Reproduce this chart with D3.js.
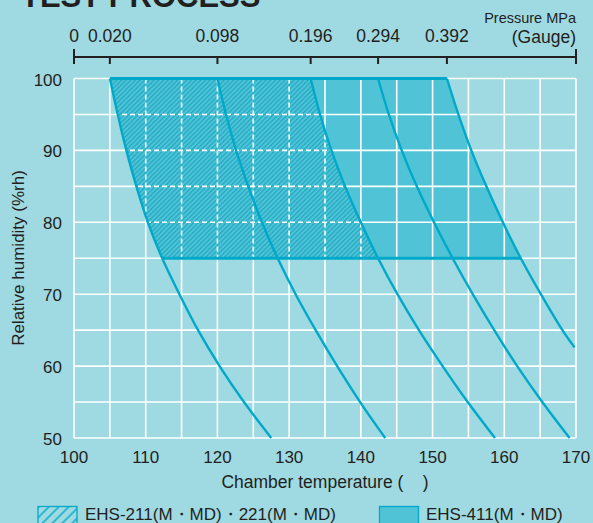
<!DOCTYPE html>
<html>
<head>
<meta charset="utf-8">
<script src="https://cdn.jsdelivr.net/npm/d3@7"></script>
<style>
body { margin: 0; background: #9fd9e2; overflow: hidden; }
text { font-family: "Liberation Sans", Arial, sans-serif; fill: #231f20; white-space: pre; }
</style>
</head>
<body>
<div id="chart"></div>
<script>
const rhLevels = [100, 95, 90, 85, 80, 75, 70, 65, 60, 55, 50];
// chamber temperature of each constant-pressure curve at those levels
const curve1 = [105, 106.1, 107.3, 108.7, 110.3, 112.3, 114.7, 117.3, 120.3, 123.7, 127.5];
const curve2 = [120, 121.2, 122.6, 124.3, 126.2, 128.4, 130.9, 133.7, 136.7, 139.9, 143.4];
const curve3 = [133, 134.3, 135.9, 137.8, 140.0, 142.4, 145.1, 148.1, 151.4, 154.9, 158.7];
const curve4 = [142.4, 143.9, 145.7, 147.8, 150.2, 152.8, 155.6, 158.6, 161.8, 165.3, 169.1];
// last curve leaves the plot at the right edge
const rh5 = [100, 95, 90, 85, 80, 75, 70, 65, 62.6];
const curve5 = [152.0, 153.6, 155.4, 157.5, 159.8, 162.3, 165.1, 168.1, 169.8];

const xTicks = [100, 110, 120, 130, 140, 150, 160, 170];
const yTicks = [50, 60, 70, 80, 90, 100];
const pressureLabels = ["0", "0.020", "0.098", "0.196", "0.294", "0.392"];
const pressureTemps = [100, 105, 120, 133, 142.4, 152];
const bandRH = [75, 100];
const legendLabels = ["EHS-211(M・MD)・221(M・MD)", "EHS-411(M・MD)"];

const W = 593, H = 523;
const lineCol = "#00a9c9", fillCol = "#50c4d6", bg = "#9fd9e2";

const svg = d3.select("#chart").append("svg")
  .attr("width", W).attr("height", H);

svg.append("rect").attr("width", W).attr("height", H).attr("fill", bg);

const x = d3.scaleLinear().domain([100, 170]).range([74, 576]);
const y = d3.scaleLinear().domain([50, 100]).range([438, 78.5]);

// patterns
const defs = svg.append("defs");
const hatch = defs.append("pattern").attr("id", "hatch")
  .attr("patternUnits", "userSpaceOnUse").attr("width", 3.3).attr("height", 3.3)
  .attr("patternTransform", "rotate(45)");
hatch.append("rect").attr("width", 3.3).attr("height", 3.3).attr("fill", fillCol);
hatch.append("line").attr("x1", 0.6).attr("x2", 0.6).attr("y1", 0).attr("y2", 3.3)
  .attr("stroke", "#1fa8c3").attr("stroke-width", 1.2);
const hatchLeg = defs.append("pattern").attr("id", "hatchLeg")
  .attr("patternUnits", "userSpaceOnUse").attr("width", 7).attr("height", 7)
  .attr("patternTransform", "rotate(45)");
hatchLeg.append("line").attr("x1", 1).attr("x2", 1).attr("y1", 0).attr("y2", 7)
  .attr("stroke", lineCol).attr("stroke-width", 1.4);

// curve point lists
const curves = [curve1, curve2, curve3, curve4].map(c => rhLevels.map((rh, i) => ({t: c[i], rh: rh})));
curves.push(rh5.map((rh, i) => ({t: curve5[i], rh: rh})));

const line = d3.line().x(d => x(d.t)).y(d => y(d.rh)).curve(d3.curveCatmullRom);

function band(left, right) {
  const l = left.filter(d => d.rh >= bandRH[0]);
  const r = right.filter(d => d.rh >= bandRH[0]).reverse();
  return line(l) + "L" + line(r).slice(1) + "Z";
}

// EHS-411 solid region
svg.append("path").attr("d", band(curves[0], curves[4])).attr("fill", fillCol);

// grid
const grid = svg.append("g").attr("stroke", "#fff").attr("stroke-width", 1.6);
const gx = d3.range(100, 170.1, 5), gy = d3.range(50, 100.1, 5);
function drawGrid(g) {
  g.selectAll(".v").data(gx).join("line").attr("class", "v")
    .attr("x1", d => x(d)).attr("x2", d => x(d)).attr("y1", y(100)).attr("y2", y(50));
  g.selectAll(".h").data(gy).join("line").attr("class", "h")
    .attr("x1", x(100)).attr("x2", x(170)).attr("y1", d => y(d)).attr("y2", d => y(d));
}
drawGrid(grid);

// EHS-211/221 hatched region
const hatchD = band(curves[0], curves[2]);
svg.append("path").attr("d", hatchD).attr("fill", "url(#hatch)");
defs.append("clipPath").attr("id", "hclip").append("path").attr("d", hatchD);
const dgrid = svg.append("g").attr("clip-path", "url(#hclip)")
  .attr("stroke", "#fff").attr("stroke-width", 1.6).attr("stroke-dasharray", "5,3");
drawGrid(dgrid);

// curves
svg.append("g").selectAll("path").data(curves).join("path")
  .attr("d", line).attr("fill", "none")
  .attr("stroke", lineCol).attr("stroke-width", 2.4);

// top and bottom band edges
svg.append("g").selectAll("line").data(bandRH).join("line")
  .attr("x1", d => x(curves[0].find(p => p.rh === d).t))
  .attr("x2", d => x(curves[4].find(p => p.rh === d).t))
  .attr("y1", d => y(d)).attr("y2", d => y(d))
  .attr("stroke", lineCol).attr("stroke-width", 3);

// top pressure axis
const pAxis = svg.append("g").attr("stroke", "#231f20").attr("stroke-width", 2);
pAxis.append("line").attr("x1", x(100)).attr("x2", x(170)).attr("y1", 57).attr("y2", 57);
pAxis.selectAll(".end").data([100, 170]).join("line").attr("class", "end")
  .attr("x1", d => x(d)).attr("x2", d => x(d)).attr("y1", 49).attr("y2", 64);
pAxis.selectAll(".tk").data(pressureTemps.slice(1)).join("line").attr("class", "tk")
  .attr("x1", d => x(d)).attr("x2", d => x(d)).attr("y1", 57).attr("y2", 64);
svg.append("g").selectAll("text").data(pressureLabels).join("text")
  .attr("x", (d, i) => x(pressureTemps[i])).attr("y", 42)
  .attr("text-anchor", "middle").attr("font-size", 17.5).text(d => d);
svg.append("text").attr("x", 576).attr("y", 23).attr("text-anchor", "end")
  .attr("font-size", 14.5).text("Pressure MPa");
svg.append("text").attr("x", 576).attr("y", 43).attr("text-anchor", "end")
  .attr("font-size", 17.5).text("(Gauge)");

// title (cut off by the top edge)
svg.append("text").attr("x", 21).attr("y", 7).attr("font-size", 31)
  .attr("font-weight", "bold").text("TEST PROCESS");

// tick labels
svg.append("g").selectAll("text").data(xTicks).join("text")
  .attr("x", d => x(d)).attr("y", 463).attr("text-anchor", "middle")
  .attr("font-size", 17).text(d => d);
svg.append("g").selectAll("text").data(yTicks).join("text")
  .attr("x", 62).attr("y", d => y(d) + 7).attr("text-anchor", "end")
  .attr("font-size", 17).text(d => d);

svg.append("text").attr("x", 325).attr("y", 488).attr("text-anchor", "middle")
  .attr("font-size", 17.5).text("Chamber temperature (    )");
svg.append("text").attr("transform", "translate(24,258) rotate(-90)")
  .attr("text-anchor", "middle").attr("font-size", 17).text("Relative humidity (%rh)");

// legend
const leg = svg.append("g");
leg.append("rect").attr("x", 38).attr("y", 506.5).attr("width", 39).attr("height", 22)
  .attr("fill", "url(#hatchLeg)").attr("stroke", lineCol).attr("stroke-width", 1.3);
leg.append("rect").attr("x", 379.5).attr("y", 506.5).attr("width", 39).attr("height", 22)
  .attr("fill", fillCol).attr("stroke", lineCol).attr("stroke-width", 1.3);
leg.selectAll("text").data(legendLabels).join("text")
  .attr("x", (d, i) => i ? 426 : 85).attr("y", 520)
  .attr("font-size", 17).text(d => d);
</script>
</body>
</html>
